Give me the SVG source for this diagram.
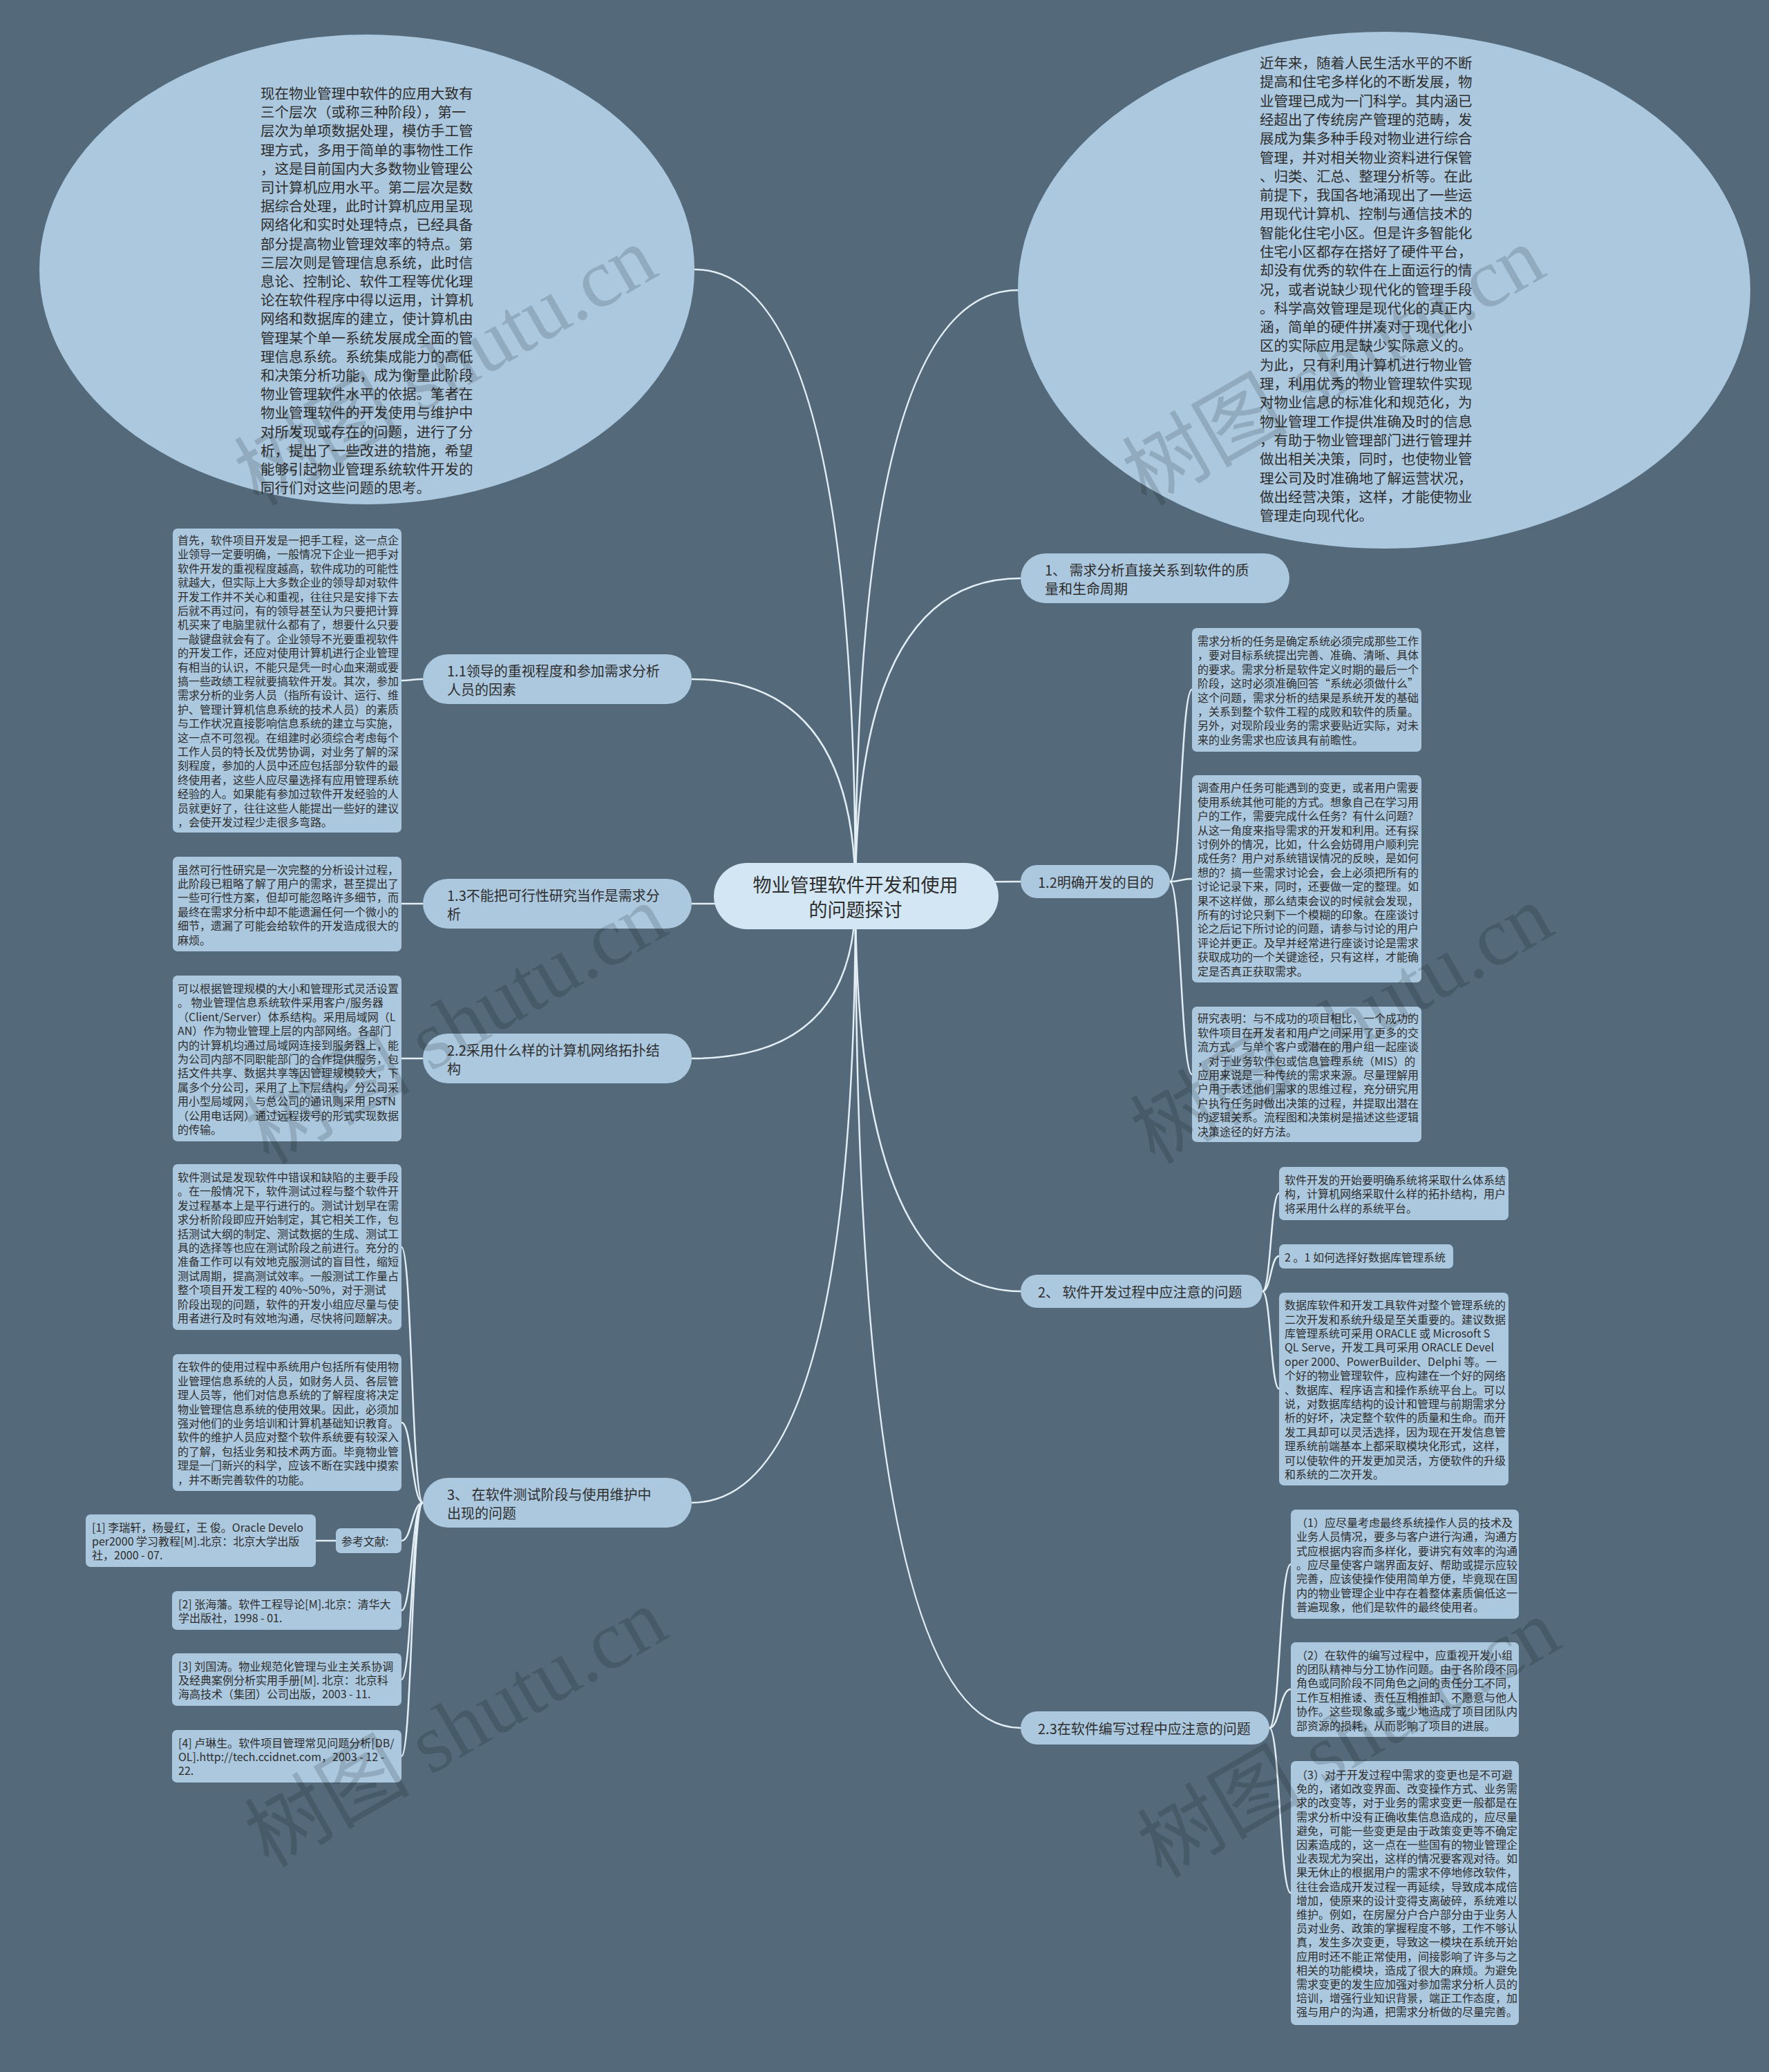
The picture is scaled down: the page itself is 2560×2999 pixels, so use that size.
<svg xmlns="http://www.w3.org/2000/svg" width="2560" height="2999" viewBox="0 0 2560 2999">
<defs>
<style>
.bg{fill:#546a7b}
.box{fill:#abc8de}
.root{fill:#d2e6f3}
.tx{fill:#2e2e2e;font-family:"Noto Sans CJK SC","Noto Sans",sans-serif}
.s16{font-size:16px}
.s20{font-size:20px}
.s205{font-size:20.5px}
.s27{font-size:27px}
.ln{fill:none;stroke:#e3eef5;stroke-width:2.5}
.wm{fill:#000;fill-opacity:0.15;font-family:"Liberation Serif","Noto Sans CJK SC",serif;font-size:120px}
</style>
</defs>
<rect class="bg" x="0" y="0" width="2560" height="2999"/>

<g id="connectors">
<path class="ln" d="M1238,1297 Q1238,390 1005,390"/>
<path class="ln" d="M1238,1297 Q1238,420 1473,420"/>
<path class="ln" d="M1238,1297 Q1238,983 1001,983"/>
<path class="ln" d="M1238,1297 Q1238,1308 1001,1308"/>
<path class="ln" d="M1238,1297 Q1238,1532 1001,1532"/>
<path class="ln" d="M1238,1297 Q1238,2175 1001,2175"/>
<path class="ln" d="M1238,1297 Q1238,837 1477,837"/>
<path class="ln" d="M1238,1297 Q1238,1276 1477,1276"/>
<path class="ln" d="M1238,1297 Q1238,1869 1477,1869"/>
<path class="ln" d="M1238,1297 Q1238,2501 1477,2501"/>
<path class="ln" d="M612,983 C596,983 596,985 581,985"/>
<path class="ln" d="M612,1308 C596,1308 596,1308 581,1308"/>
<path class="ln" d="M612,1532 C596,1532 596,1532 581,1532"/>
<path class="ln" d="M612,2175 C596,2175 596,1805 581,1805"/>
<path class="ln" d="M612,2175 C596,2175 596,2059 581,2059"/>
<path class="ln" d="M612,2175 C596,2175 596,2230 581,2230"/>
<path class="ln" d="M612,2175 C596,2175 596,2331 581,2331"/>
<path class="ln" d="M612,2175 C596,2175 596,2431 581,2431"/>
<path class="ln" d="M612,2175 C596,2175 596,2542 581,2542"/>
<path class="ln" d="M486,2230 L457,2230"/>
<path class="ln" d="M1693,1276 C1709,1276 1709,998 1725,998"/>
<path class="ln" d="M1693,1276 C1709,1276 1709,1272 1725,1272"/>
<path class="ln" d="M1693,1276 C1709,1276 1709,1555 1725,1555"/>
<path class="ln" d="M1827,1869 C1839,1869 1839,1727 1851,1727"/>
<path class="ln" d="M1827,1869 C1839,1869 1839,1818 1851,1818"/>
<path class="ln" d="M1827,1869 C1839,1869 1839,2010 1851,2010"/>
<path class="ln" d="M1837,2501 C1852,2501 1852,2264 1868,2264"/>
<path class="ln" d="M1837,2501 C1852,2501 1852,2445 1868,2445"/>
<path class="ln" d="M1837,2501 C1852,2501 1852,2740 1868,2740"/>
</g>

<g id="root">
<rect class="root" x="1033" y="1249" width="412" height="96" rx="48"/>
<text class="tx s27" text-anchor="middle" dominant-baseline="central" x="1238" y="1279">物业管理软件开发和使用</text>
<text class="tx s27" text-anchor="middle" dominant-baseline="central" x="1238" y="1315">的问题探讨</text>
</g>

<g id="ellipse-left">
<ellipse class="box" cx="531" cy="390" rx="474" ry="340"/>
<text class="tx s205" dominant-baseline="central" x="377" y="134"><tspan x="377">现在物业管理中软件的应用大致有</tspan><tspan x="377" dy="27.2">三个层次（或称三种阶段），第一</tspan><tspan x="377" dy="27.2">层次为单项数据处理，模仿手工管</tspan><tspan x="377" dy="27.2">理方式，多用于简单的事物性工作</tspan><tspan x="377" dy="27.2">，这是目前国内大多数物业管理公</tspan><tspan x="377" dy="27.2">司计算机应用水平。第二层次是数</tspan><tspan x="377" dy="27.2">据综合处理，此时计算机应用呈现</tspan><tspan x="377" dy="27.2">网络化和实时处理特点，已经具备</tspan><tspan x="377" dy="27.2">部分提高物业管理效率的特点。第</tspan><tspan x="377" dy="27.2">三层次则是管理信息系统，此时信</tspan><tspan x="377" dy="27.2">息论、控制论、软件工程等优化理</tspan><tspan x="377" dy="27.2">论在软件程序中得以运用，计算机</tspan><tspan x="377" dy="27.2">网络和数据库的建立，使计算机由</tspan><tspan x="377" dy="27.2">管理某个单一系统发展成全面的管</tspan><tspan x="377" dy="27.2">理信息系统。系统集成能力的高低</tspan><tspan x="377" dy="27.2">和决策分析功能，成为衡量此阶段</tspan><tspan x="377" dy="27.2">物业管理软件水平的依据。笔者在</tspan><tspan x="377" dy="27.2">物业管理软件的开发使用与维护中</tspan><tspan x="377" dy="27.2">对所发现或存在的问题，进行了分</tspan><tspan x="377" dy="27.2">析，提出了一些改进的措施，希望</tspan><tspan x="377" dy="27.2">能够引起物业管理系统软件开发的</tspan><tspan x="377" dy="27.2">同行们对这些问题的思考。</tspan></text>
</g>

<g id="ellipse-right">
<ellipse class="box" cx="2003" cy="420" rx="530" ry="374"/>
<text class="tx s205" dominant-baseline="central" x="1823" y="90"><tspan x="1823">近年来，随着人民生活水平的不断</tspan><tspan x="1823" dy="27.3">提高和住宅多样化的不断发展，物</tspan><tspan x="1823" dy="27.3">业管理已成为一门科学。其内涵已</tspan><tspan x="1823" dy="27.3">经超出了传统房产管理的范畴，发</tspan><tspan x="1823" dy="27.3">展成为集多种手段对物业进行综合</tspan><tspan x="1823" dy="27.3">管理，并对相关物业资料进行保管</tspan><tspan x="1823" dy="27.3">、归类、汇总、整理分析等。在此</tspan><tspan x="1823" dy="27.3">前提下，我国各地涌现出了一些运</tspan><tspan x="1823" dy="27.3">用现代计算机、控制与通信技术的</tspan><tspan x="1823" dy="27.3">智能化住宅小区。但是许多智能化</tspan><tspan x="1823" dy="27.3">住宅小区都存在搭好了硬件平台，</tspan><tspan x="1823" dy="27.3">却没有优秀的软件在上面运行的情</tspan><tspan x="1823" dy="27.3">况，或者说缺少现代化的管理手段</tspan><tspan x="1823" dy="27.3">。科学高效管理是现代化的真正内</tspan><tspan x="1823" dy="27.3">涵，简单的硬件拼凑对于现代化小</tspan><tspan x="1823" dy="27.3">区的实际应用是缺少实际意义的。</tspan><tspan x="1823" dy="27.3">为此，只有利用计算机进行物业管</tspan><tspan x="1823" dy="27.3">理，利用优秀的物业管理软件实现</tspan><tspan x="1823" dy="27.3">对物业信息的标准化和规范化，为</tspan><tspan x="1823" dy="27.3">物业管理工作提供准确及时的信息</tspan><tspan x="1823" dy="27.3">，有助于物业管理部门进行管理并</tspan><tspan x="1823" dy="27.3">做出相关决策，同时，也使物业管</tspan><tspan x="1823" dy="27.3">理公司及时准确地了解运营状况，</tspan><tspan x="1823" dy="27.3">做出经营决策，这样，才能使物业</tspan><tspan x="1823" dy="27.3">管理走向现代化。</tspan></text>
</g>

<g id="n11">
<rect class="box" x="612" y="947" width="389" height="72" rx="36"/>
<text class="tx s20" dominant-baseline="central" x="647" y="969.5"><tspan x="647">1.1领导的重视程度和参加需求分析</tspan><tspan x="647" dy="27">人员的因素</tspan></text>
</g>
<g id="n13">
<rect class="box" x="612" y="1272" width="389" height="72" rx="36"/>
<text class="tx s20" dominant-baseline="central" x="647" y="1294.5"><tspan x="647">1.3不能把可行性研究当作是需求分</tspan><tspan x="647" dy="27">析</tspan></text>
</g>
<g id="n22">
<rect class="box" x="612" y="1496" width="389" height="72" rx="36"/>
<text class="tx s20" dominant-baseline="central" x="647" y="1518.5"><tspan x="647">2.2采用什么样的计算机网络拓扑结</tspan><tspan x="647" dy="27">构</tspan></text>
</g>
<g id="n3">
<rect class="box" x="612" y="2139" width="389" height="72" rx="36"/>
<text class="tx s20" dominant-baseline="central" x="647" y="2161.5"><tspan x="647">3、 在软件测试阶段与使用维护中</tspan><tspan x="647" dy="27">出现的问题</tspan></text>
</g>
<g id="n1">
<rect class="box" x="1477" y="801" width="389" height="72" rx="36"/>
<text class="tx s20" dominant-baseline="central" x="1512" y="823.5"><tspan x="1512">1、 需求分析直接关系到软件的质</tspan><tspan x="1512" dy="27">量和生命周期</tspan></text>
</g>
<g id="n12">
<rect class="box" x="1477" y="1252" width="216" height="48" rx="24"/>
<text class="tx s20" dominant-baseline="central" x="1502" y="1276">1.2明确开发的目的</text>
</g>
<g id="n2">
<rect class="box" x="1477" y="1845" width="350" height="48" rx="24"/>
<text class="tx s20" dominant-baseline="central" x="1502" y="1869">2、 软件开发过程中应注意的问题</text>
</g>
<g id="n23">
<rect class="box" x="1477" y="2477" width="360" height="48" rx="24"/>
<text class="tx s20" dominant-baseline="central" x="1502" y="2501">2.3在软件编写过程中应注意的问题</text>
</g>

<g id="b11">
<rect class="box" x="250" y="765" width="331" height="440" rx="7"/>
<text class="tx s16" dominant-baseline="central" x="257" y="781"><tspan x="257">首先，软件项目开发是一把手工程，这一点企</tspan><tspan x="257" dy="20.4">业领导一定要明确，一般情况下企业一把手对</tspan><tspan x="257" dy="20.4">软件开发的重视程度越高，软件成功的可能性</tspan><tspan x="257" dy="20.4">就越大，但实际上大多数企业的领导却对软件</tspan><tspan x="257" dy="20.4">开发工作并不关心和重视，往往只是安排下去</tspan><tspan x="257" dy="20.4">后就不再过问，有的领导甚至认为只要把计算</tspan><tspan x="257" dy="20.4">机买来了电脑里就什么都有了，想要什么只要</tspan><tspan x="257" dy="20.4">一敲键盘就会有了。企业领导不光要重视软件</tspan><tspan x="257" dy="20.4">的开发工作，还应对使用计算机进行企业管理</tspan><tspan x="257" dy="20.4">有相当的认识，不能只是凭一时心血来潮或要</tspan><tspan x="257" dy="20.4">搞一些政绩工程就要搞软件开发。其次，参加</tspan><tspan x="257" dy="20.4">需求分析的业务人员（指所有设计、运行、维</tspan><tspan x="257" dy="20.4">护、管理计算机信息系统的技术人员）的素质</tspan><tspan x="257" dy="20.4">与工作状况直接影响信息系统的建立与实施，</tspan><tspan x="257" dy="20.4">这一点不可忽视。在组建时必须综合考虑每个</tspan><tspan x="257" dy="20.4">工作人员的特长及优势协调，对业务了解的深</tspan><tspan x="257" dy="20.4">刻程度，参加的人员中还应包括部分软件的最</tspan><tspan x="257" dy="20.4">终使用者，这些人应尽量选择有应用管理系统</tspan><tspan x="257" dy="20.4">经验的人。如果能有参加过软件开发经验的人</tspan><tspan x="257" dy="20.4">员就更好了，往往这些人能提出一些好的建议</tspan><tspan x="257" dy="20.4">，会使开发过程少走很多弯路。</tspan></text>
</g>
<g id="b13">
<rect class="box" x="250" y="1240" width="331" height="137" rx="7"/>
<text class="tx s16" dominant-baseline="central" x="257" y="1257.5"><tspan x="257">虽然可行性研究是一次完整的分析设计过程，</tspan><tspan x="257" dy="20.4">此阶段已粗略了解了用户的需求，甚至提出了</tspan><tspan x="257" dy="20.4">一些可行性方案，但却可能忽略许多细节，而</tspan><tspan x="257" dy="20.4">最终在需求分析中却不能遗漏任何一个微小的</tspan><tspan x="257" dy="20.4">细节，遗漏了可能会给软件的开发造成很大的</tspan><tspan x="257" dy="20.4">麻烦。</tspan></text>
</g>
<g id="b22">
<rect class="box" x="250" y="1412" width="331" height="240" rx="7"/>
<text class="tx s16" dominant-baseline="central" x="257" y="1430"><tspan x="257">可以根据管理规模的大小和管理形式灵活设置</tspan><tspan x="257" dy="20.4">。 物业管理信息系统软件采用客户/服务器</tspan><tspan x="257" dy="20.4">（Client/Server）体系结构。采用局域网（L</tspan><tspan x="257" dy="20.4">AN）作为物业管理上层的内部网络。各部门</tspan><tspan x="257" dy="20.4">内的计算机均通过局域网连接到服务器上，能</tspan><tspan x="257" dy="20.4">为公司内部不同职能部门的合作提供服务，包</tspan><tspan x="257" dy="20.4">括文件共享、数据共享等因管理规模较大，下</tspan><tspan x="257" dy="20.4">属多个分公司，采用了上下层结构，分公司采</tspan><tspan x="257" dy="20.4">用小型局域网，与总公司的通讯则采用 PSTN</tspan><tspan x="257" dy="20.4">（公用电话网）通过远程拨号的形式实现数据</tspan><tspan x="257" dy="20.4">的传输。</tspan></text>
</g>
<g id="b3a">
<rect class="box" x="250" y="1685" width="331" height="240" rx="7"/>
<text class="tx s16" dominant-baseline="central" x="257" y="1703"><tspan x="257">软件测试是发现软件中错误和缺陷的主要手段</tspan><tspan x="257" dy="20.4">。在一般情况下，软件测试过程与整个软件开</tspan><tspan x="257" dy="20.4">发过程基本上是平行进行的。测试计划早在需</tspan><tspan x="257" dy="20.4">求分析阶段即应开始制定，其它相关工作，包</tspan><tspan x="257" dy="20.4">括测试大纲的制定、测试数据的生成、测试工</tspan><tspan x="257" dy="20.4">具的选择等也应在测试阶段之前进行。充分的</tspan><tspan x="257" dy="20.4">准备工作可以有效地克服测试的盲目性，缩短</tspan><tspan x="257" dy="20.4">测试周期，提高测试效率。一般测试工作量占</tspan><tspan x="257" dy="20.4">整个项目开发工程的 40%~50%，对于测试</tspan><tspan x="257" dy="20.4">阶段出现的问题，软件的开发小组应尽量与使</tspan><tspan x="257" dy="20.4">用者进行及时有效地沟通，尽快将问题解决。</tspan></text>
</g>
<g id="b3b">
<rect class="box" x="250" y="1960" width="331" height="198" rx="7"/>
<text class="tx s16" dominant-baseline="central" x="257" y="1977.4"><tspan x="257">在软件的使用过程中系统用户包括所有使用物</tspan><tspan x="257" dy="20.4">业管理信息系统的人员，如财务人员、各层管</tspan><tspan x="257" dy="20.4">理人员等，他们对信息系统的了解程度将决定</tspan><tspan x="257" dy="20.4">物业管理信息系统的使用效果。因此，必须加</tspan><tspan x="257" dy="20.4">强对他们的业务培训和计算机基础知识教育。</tspan><tspan x="257" dy="20.4">软件的维护人员应对整个软件系统要有较深入</tspan><tspan x="257" dy="20.4">的了解，包括业务和技术两方面。毕竟物业管</tspan><tspan x="257" dy="20.4">理是一门新兴的科学，应该不断在实践中摸索</tspan><tspan x="257" dy="20.4">，并不断完善软件的功能。</tspan></text>
</g>
<g id="ref-head">
<rect class="box" x="486" y="2212" width="95" height="36" rx="7"/>
<text class="tx s16" dominant-baseline="central" x="494" y="2230">参考文献:</text>
</g>
<g id="ref1">
<rect class="box" x="124" y="2192" width="333" height="76" rx="7"/>
<text class="tx s16" dominant-baseline="central" x="133" y="2209.6"><tspan x="133">[1] 李瑞轩，杨曼红，王 俊。Oracle Develo</tspan><tspan x="133" dy="20.4">per2000 学习教程[M].北京：北京大学出版</tspan><tspan x="133" dy="20.4">社，2000 - 07.</tspan></text>
</g>
<g id="ref2">
<rect class="box" x="249" y="2303" width="332" height="56" rx="7"/>
<text class="tx s16" dominant-baseline="central" x="258" y="2320.8"><tspan x="258">[2] 张海藩。软件工程导论[M].北京：清华大</tspan><tspan x="258" dy="20.4">学出版社，1998 - 01.</tspan></text>
</g>
<g id="ref3">
<rect class="box" x="249" y="2393" width="332" height="76" rx="7"/>
<text class="tx s16" dominant-baseline="central" x="258" y="2410.6"><tspan x="258">[3] 刘国涛。物业规范化管理与业主关系协调</tspan><tspan x="258" dy="20.4">及经典案例分析实用手册[M]. 北京：北京科</tspan><tspan x="258" dy="20.4">海高技术（集团）公司出版，2003 - 11.</tspan></text>
</g>
<g id="ref4">
<rect class="box" x="249" y="2504" width="332" height="76" rx="7"/>
<text class="tx s16" dominant-baseline="central" x="258" y="2521.6"><tspan x="258">[4] 卢琳生。软件项目管理常见问题分析[DB/</tspan><tspan x="258" dy="20.4">OL].http://tech.ccidnet.com，2003 - 12 -</tspan><tspan x="258" dy="20.4">22.</tspan></text>
</g>

<g id="r1">
<rect class="box" x="1725" y="909" width="332" height="179" rx="7"/>
<text class="tx s16" dominant-baseline="central" x="1733" y="927"><tspan x="1733">需求分析的任务是确定系统必须完成那些工作</tspan><tspan x="1733" dy="20.4">，要对目标系统提出完善、准确、清晰、具体</tspan><tspan x="1733" dy="20.4">的要求。需求分析是软件定义时期的最后一个</tspan><tspan x="1733" dy="20.4">阶段，这时必须准确回答“系统必须做什么”</tspan><tspan x="1733" dy="20.4">这个问题，需求分析的结果是系统开发的基础</tspan><tspan x="1733" dy="20.4">，关系到整个软件工程的成败和软件的质量。</tspan><tspan x="1733" dy="20.4">另外，对现阶段业务的需求要贴近实际，对未</tspan><tspan x="1733" dy="20.4">来的业务需求也应该具有前瞻性。</tspan></text>
</g>
<g id="r2">
<rect class="box" x="1725" y="1122" width="332" height="300" rx="7"/>
<text class="tx s16" dominant-baseline="central" x="1733" y="1139.4"><tspan x="1733">调查用户任务可能遇到的变更，或者用户需要</tspan><tspan x="1733" dy="20.4">使用系统其他可能的方式。想象自己在学习用</tspan><tspan x="1733" dy="20.4">户的工作，需要完成什么任务？有什么问题？</tspan><tspan x="1733" dy="20.4">从这一角度来指导需求的开发和利用。还有探</tspan><tspan x="1733" dy="20.4">讨例外的情况，比如，什么会妨碍用户顺利完</tspan><tspan x="1733" dy="20.4">成任务？用户对系统错误情况的反映，是如何</tspan><tspan x="1733" dy="20.4">想的？搞一些需求讨论会，会上必须把所有的</tspan><tspan x="1733" dy="20.4">讨论记录下来，同时，还要做一定的整理。如</tspan><tspan x="1733" dy="20.4">果不这样做，那么结束会议的时候就会发现，</tspan><tspan x="1733" dy="20.4">所有的讨论只剩下一个模糊的印象。在座谈讨</tspan><tspan x="1733" dy="20.4">论之后记下所讨论的问题，请参与讨论的用户</tspan><tspan x="1733" dy="20.4">评论并更正。及早并经常进行座谈讨论是需求</tspan><tspan x="1733" dy="20.4">获取成功的一个关键途径，只有这样，才能确</tspan><tspan x="1733" dy="20.4">定是否真正获取需求。</tspan></text>
</g>
<g id="r3">
<rect class="box" x="1725" y="1457" width="332" height="196" rx="7"/>
<text class="tx s16" dominant-baseline="central" x="1733" y="1473.4"><tspan x="1733">研究表明：与不成功的项目相比，一个成功的</tspan><tspan x="1733" dy="20.4">软件项目在开发者和用户之间采用了更多的交</tspan><tspan x="1733" dy="20.4">流方式。与单个客户或潜在的用户组一起座谈</tspan><tspan x="1733" dy="20.4">，对于业务软件包或信息管理系统（MIS）的</tspan><tspan x="1733" dy="20.4">应用来说是一种传统的需求来源。尽量理解用</tspan><tspan x="1733" dy="20.4">户用于表述他们需求的思维过程，充分研究用</tspan><tspan x="1733" dy="20.4">户执行任务时做出决策的过程，并提取出潜在</tspan><tspan x="1733" dy="20.4">的逻辑关系。流程图和决策树是描述这些逻辑</tspan><tspan x="1733" dy="20.4">决策途径的好方法。</tspan></text>
</g>

<g id="s1">
<rect class="box" x="1851" y="1689" width="332" height="77" rx="7"/>
<text class="tx s16" dominant-baseline="central" x="1859" y="1707"><tspan x="1859">软件开发的开始要明确系统将采取什么体系结</tspan><tspan x="1859" dy="20.4">构，计算机网络采取什么样的拓扑结构，用户</tspan><tspan x="1859" dy="20.4">将采用什么样的系统平台。</tspan></text>
</g>
<g id="s2">
<rect class="box" x="1851" y="1801" width="252" height="35" rx="7"/>
<text class="tx s16" dominant-baseline="central" x="1859" y="1818.5">2 。1 如何选择好数据库管理系统</text>
</g>
<g id="s3">
<rect class="box" x="1851" y="1871" width="332" height="279" rx="7"/>
<text class="tx s16" dominant-baseline="central" x="1859" y="1888.1"><tspan x="1859">数据库软件和开发工具软件对整个管理系统的</tspan><tspan x="1859" dy="20.4">二次开发和系统升级是至关重要的。建议数据</tspan><tspan x="1859" dy="20.4">库管理系统可采用 ORACLE 或 Microsoft S</tspan><tspan x="1859" dy="20.4">QL Serve，开发工具可采用 ORACLE Devel</tspan><tspan x="1859" dy="20.4">oper 2000、PowerBuilder、Delphi 等。一</tspan><tspan x="1859" dy="20.4">个好的物业管理软件，应构建在一个好的网络</tspan><tspan x="1859" dy="20.4">、数据库、程序语言和操作系统平台上。可以</tspan><tspan x="1859" dy="20.4">说，对数据库结构的设计和管理与前期需求分</tspan><tspan x="1859" dy="20.4">析的好坏，决定整个软件的质量和生命。而开</tspan><tspan x="1859" dy="20.4">发工具却可以灵活选择，因为现在开发信息管</tspan><tspan x="1859" dy="20.4">理系统前端基本上都采取模块化形式，这样，</tspan><tspan x="1859" dy="20.4">可以使软件的开发更加灵活，方便软件的升级</tspan><tspan x="1859" dy="20.4">和系统的二次开发。</tspan></text>
</g>

<g id="t1">
<rect class="box" x="1868" y="2185" width="330" height="158" rx="7"/>
<text class="tx s16" dominant-baseline="central" x="1876" y="2202.8"><tspan x="1876">（1）应尽量考虑最终系统操作人员的技术及</tspan><tspan x="1876" dy="20.4">业务人员情况，要多与客户进行沟通，沟通方</tspan><tspan x="1876" dy="20.4">式应根据内容而多样化，要讲究有效率的沟通</tspan><tspan x="1876" dy="20.4">。应尽量使客户端界面友好、帮助或提示应较</tspan><tspan x="1876" dy="20.4">完善，应该使操作使用简单方便，毕竟现在国</tspan><tspan x="1876" dy="20.4">内的物业管理企业中存在着整体素质偏低这一</tspan><tspan x="1876" dy="20.4">普遍现象，他们是软件的最终使用者。</tspan></text>
</g>
<g id="t2">
<rect class="box" x="1868" y="2377" width="330" height="137" rx="7"/>
<text class="tx s16" dominant-baseline="central" x="1876" y="2394.5"><tspan x="1876">（2）在软件的编写过程中，应重视开发小组</tspan><tspan x="1876" dy="20.4">的团队精神与分工协作问题。由于各阶段不同</tspan><tspan x="1876" dy="20.4">角色或同阶段不同角色之间的责任分工不同，</tspan><tspan x="1876" dy="20.4">工作互相推诿、责任互相推卸、不愿意与他人</tspan><tspan x="1876" dy="20.4">协作。这些现象或多或少地造成了项目团队内</tspan><tspan x="1876" dy="20.4">部资源的损耗，从而影响了项目的进展。</tspan></text>
</g>
<g id="t3">
<rect class="box" x="1868" y="2549" width="330" height="382" rx="7"/>
<text class="tx s16" dominant-baseline="central" x="1876" y="2568"><tspan x="1876">（3）对于开发过程中需求的变更也是不可避</tspan><tspan x="1876" dy="20.2">免的，诸如改变界面、改变操作方式、业务需</tspan><tspan x="1876" dy="20.2">求的改变等，对于业务的需求变更一般都是在</tspan><tspan x="1876" dy="20.2">需求分析中没有正确收集信息造成的，应尽量</tspan><tspan x="1876" dy="20.2">避免，可能一些变更是由于政策变更等不确定</tspan><tspan x="1876" dy="20.2">因素造成的，这一点在一些国有的物业管理企</tspan><tspan x="1876" dy="20.2">业表现尤为突出，这样的情况要客观对待。如</tspan><tspan x="1876" dy="20.2">果无休止的根据用户的需求不停地修改软件，</tspan><tspan x="1876" dy="20.2">往往会造成开发过程一再延续，导致成本成倍</tspan><tspan x="1876" dy="20.2">增加，使原来的设计变得支离破碎，系统难以</tspan><tspan x="1876" dy="20.2">维护。例如，在房屋分户合户部分由于业务人</tspan><tspan x="1876" dy="20.2">员对业务、政策的掌握程度不够，工作不够认</tspan><tspan x="1876" dy="20.2">真，发生多次变更，导致这一模块在系统开始</tspan><tspan x="1876" dy="20.2">应用时还不能正常使用，间接影响了许多与之</tspan><tspan x="1876" dy="20.2">相关的功能模块，造成了很大的麻烦。为避免</tspan><tspan x="1876" dy="20.2">需求变更的发生应加强对参加需求分析人员的</tspan><tspan x="1876" dy="20.2">培训，增强行业知识背景，端正工作态度，加</tspan><tspan x="1876" dy="20.2">强与用户的沟通，把需求分析做的尽量完善。</tspan></text>
</g>

<g id="watermarks">
<text class="wm" text-anchor="middle" dominant-baseline="central" transform="translate(645,530) rotate(-30)">树图 shutu.cn</text>
<text class="wm" text-anchor="middle" dominant-baseline="central" transform="translate(1930,530) rotate(-30)">树图 shutu.cn</text>
<text class="wm" text-anchor="middle" dominant-baseline="central" transform="translate(660,1483) rotate(-30)">树图 shutu.cn</text>
<text class="wm" text-anchor="middle" dominant-baseline="central" transform="translate(1942,1483) rotate(-30)">树图 shutu.cn</text>
<text class="wm" text-anchor="middle" dominant-baseline="central" transform="translate(660,2501) rotate(-30)">树图 shutu.cn</text>
<text class="wm" text-anchor="middle" dominant-baseline="central" transform="translate(1952,2516) rotate(-30)">树图 shutu.cn</text>
</g>
</svg>
